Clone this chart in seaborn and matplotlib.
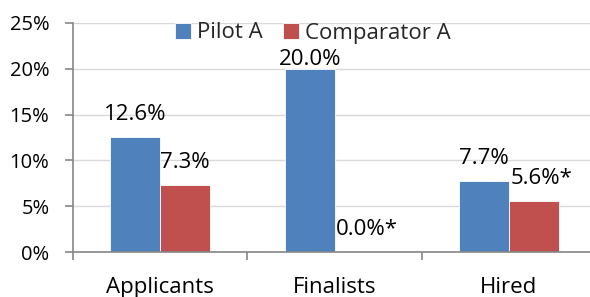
import pandas as pd
import numpy as np
import seaborn as sns
import matplotlib.pyplot as plt
from matplotlib.ticker import FuncFormatter, FixedLocator

# chart data (percent)
stages = ["Applicants", "Finalists", "Hired"]
groups = ["Pilot A", "Comparator A"]
pilot_vals = [12.6, 20.0, 7.7]
comp_vals = [7.3, 0.0, 5.6]
pilot_labels = ["12.6%", "20.0%", "7.7%"]
comp_labels = ["7.3%", "0.0%*", "5.6%*"]
colors = ["#4F81BD", "#C0504D"]

df = pd.DataFrame({
    "Stage": stages * 2,
    "Group": [groups[0]] * 3 + [groups[1]] * 3,
    "Value": pilot_vals + comp_vals,
    "Label": pilot_labels + comp_labels,
})

sns.set_style("white")
plt.rcParams["font.family"] = ["Open Sans", "DejaVu Sans"]

fig = plt.figure(figsize=(5.9, 2.97), dpi=100)
ax = fig.add_axes([73 / 590, 45 / 297, 523 / 590, 229 / 297])

sns.barplot(data=df, x="Stage", y="Value", hue="Group", order=stages,
            hue_order=groups, palette=colors, width=0.57, ax=ax,
            edgecolor="white", linewidth=0.6, saturation=1)

ax.set_ylim(0, 25)
ax.set_xlim(-0.5, 2.5)
ax.set_yticks(np.arange(0, 26, 5))
ax.yaxis.set_major_formatter(FuncFormatter(lambda v, p: f"{v:.0f}%"))
ax.grid(axis="y", color="#D9D9D9", linewidth=1)
ax.set_axisbelow(True)
ax.set_xlabel("")
ax.set_ylabel("")

for s in ["top", "right"]:
    ax.spines[s].set_visible(False)
for s in ["left", "bottom"]:
    ax.spines[s].set_color("#868686")
    ax.spines[s].set_linewidth(1.2)

ax.tick_params(axis="y", left=True, length=6, width=1.2, color="#868686",
               labelsize=14.5, pad=11, labelcolor="black")
ax.tick_params(axis="x", which="major", length=0, labelsize=16, pad=18,
               labelcolor="black")
ax.xaxis.set_minor_locator(FixedLocator([-0.5, 0.5, 1.5, 2.5]))
ax.tick_params(axis="x", which="minor", bottom=True, length=6, width=1.2,
               color="#868686")

# data labels above bars
for cont, labels in zip(ax.containers, [pilot_labels, comp_labels]):
    for bar, lab in zip(cont, labels):
        cx = bar.get_x() + bar.get_width() / 2
        dy = 4 if bar.get_height() >= 20 else 17
        dx = 8 if lab.endswith("*") else 0
        ax.annotate(lab, (cx, bar.get_height()), xytext=(dx * 0.72, dy * 0.72),
                    textcoords="offset points", ha="center", va="baseline",
                    fontsize=16, color="black", annotation_clip=False)

leg = ax.legend(loc="center", bbox_to_anchor=(313 / 590, 1 - 33 / 297),
                bbox_transform=fig.transFigure, ncol=2, frameon=False,
                fontsize=16, handlelength=0.7, handleheight=0.7,
                handletextpad=0.3, columnspacing=0.9, borderpad=0)

plt.savefig("out.png", dpi=100)
